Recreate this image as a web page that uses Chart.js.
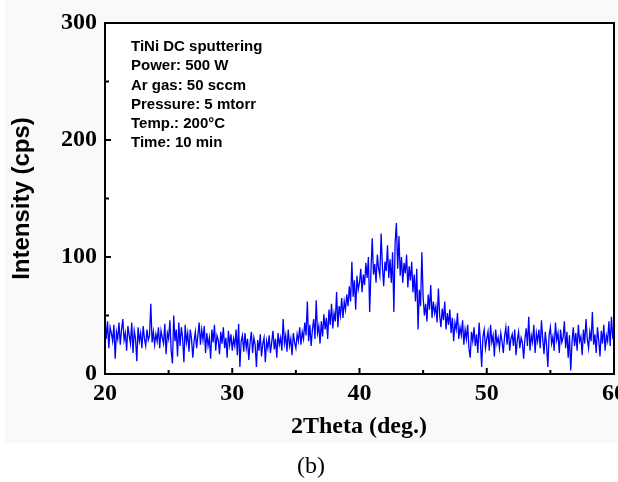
<!DOCTYPE html>
<html>
<head>
<meta charset="utf-8">
<script src="https://cdn.jsdelivr.net/npm/chart.js@4/dist/chart.umd.min.js"></script>
<style>
html,body{margin:0;padding:0;background:#fff;}
canvas{display:block;}
</style>
</head>
<body>
<canvas id="c" width="618" height="482"></canvas>
<script>
// Scan grid (2Theta, degrees)
const startAngle = 20;
const stepAngle = 0.1;
// Intensity (cps), one row per degree (20.0 ... 60.0)
const intensity = [
  48,30,45,22,40,35,28,42,13,36,
  30,44,25,38,47,29,35,20,41,33,
  26,44,18,37,30,11,40,28,35,22,
  41,30,24,38,29,33,60,27,36,25,
  34,28,40,22,37,31,26,43,17,35,
  30,46,20,9,50,28,38,15,44,24,
  40,31,10,42,27,35,19,38,30,14,
  28,36,22,33,44,25,38,29,41,18,
  35,24,31,13,38,27,42,20,33,29,
  17,36,26,40,22,31,14,37,25,34,
  20,30,24,38,16,43,6,28,33,19,
  35,22,30,12,27,36,18,31,25,6,
  29,20,34,15,26,31,10,28,22,33,
  18,27,37,21,30,14,35,25,31,20,
  47,26,33,19,38,24,30,16,35,27,
  22,34,28,40,25,36,30,44,33,62,
  28,42,24,38,47,30,63,35,41,26,
  45,32,51,38,48,30,55,42,60,39,
  52,45,70,40,58,50,65,48,62,55,
  68,58,75,62,96,66,80,55,84,72,
  78,90,70,85,76,95,82,100,53,88,
  116,85,94,78,102,90,84,120,92,75,
  96,88,110,82,98,78,104,53,112,129,
  90,118,84,100,78,95,86,102,74,92,
  80,96,70,85,62,90,38,72,58,104,
  66,50,60,45,68,55,76,48,62,52,
  58,44,73,50,40,56,46,62,38,52,
  42,55,35,48,28,44,38,52,30,40,
  33,46,25,38,30,42,22,14,36,28,
  40,24,34,18,44,28,6,32,38,22,
  30,36,20,42,27,33,15,38,26,31,
  22,35,28,18,32,40,25,41,20,30,
  34,24,38,16,29,36,22,31,27,13,
  30,39,24,49,20,33,27,42,18,35,
  28,38,22,46,30,17,36,25,6,33,
  40,26,32,20,44,29,35,18,38,27,
  31,45,22,36,14,33,3,27,40,24,
  35,20,42,28,32,16,38,26,47,30,
  22,36,28,53,25,34,18,40,29,15,
  37,26,42,20,33,28,45,24,49,31,
  28
];
const xTicks = [20, 30, 40, 50, 60];
const xMinorTicks = [25, 35, 45, 55];
const yTicks = [0, 100, 200, 300];
const yMinorTicks = [50, 150, 250];
const annotationLines = [
  "TiNi DC sputtering",
  "Power: 500 W",
  "Ar gas: 50 sccm",
  "Pressure: 5 mtorr",
  "Temp.: 200\u00B0C",
  "Time: 10 min"
];
const xTitle = "2Theta (deg.)";
const yTitle = "Intensity (cps)";
const caption = "(b)";

const points = intensity.map((v, i) => ({ x: +(startAngle + i * stepAngle).toFixed(2), y: v }));

const decor = {
  id: 'decor',
  beforeDraw(chart) {
    const ctx = chart.ctx, a = chart.chartArea;
    ctx.save();
    ctx.fillStyle = '#ffffff';
    ctx.fillRect(0, 0, chart.width, chart.height);
    ctx.fillStyle = '#f9f9f9';
    ctx.fillRect(5, 0, chart.width - 5, 443);
    ctx.fillStyle = '#ffffff';
    ctx.fillRect(a.left, a.top, a.right - a.left, a.bottom - a.top);
    ctx.restore();
  },
  afterDatasetsDraw(chart) {
    const ctx = chart.ctx, a = chart.chartArea;
    const xs = chart.scales.x, ys = chart.scales.y;
    ctx.save();
    ctx.strokeStyle = '#000';
    ctx.lineWidth = 2;
    ctx.strokeRect(a.left, a.top, a.right - a.left, a.bottom - a.top);
    ctx.beginPath();
    xTicks.forEach(t => { const px = xs.getPixelForValue(t); ctx.moveTo(px, a.bottom); ctx.lineTo(px, a.bottom - 6); });
    xMinorTicks.forEach(t => { const px = xs.getPixelForValue(t); ctx.moveTo(px, a.bottom); ctx.lineTo(px, a.bottom - 4); });
    yTicks.forEach(t => { const py = ys.getPixelForValue(t); ctx.moveTo(a.left, py); ctx.lineTo(a.left + 6, py); });
    yMinorTicks.forEach(t => { const py = ys.getPixelForValue(t); ctx.moveTo(a.left, py); ctx.lineTo(a.left + 4, py); });
    ctx.stroke();

    // annotation
    ctx.fillStyle = '#000';
    ctx.font = 'bold 15px "Liberation Sans", Arial, sans-serif';
    ctx.textAlign = 'left';
    ctx.textBaseline = 'middle';
    annotationLines.forEach((s, i) => ctx.fillText(s, 131, 47 + i * 19.2));

    // x title
    ctx.font = 'bold 24px "Liberation Serif", "Times New Roman", serif';
    ctx.textAlign = 'center';
    ctx.textBaseline = 'middle';
    ctx.fillText(xTitle, 359, 427);

    // caption
    ctx.font = '24px "Liberation Serif", "Times New Roman", serif';
    ctx.fillText(caption, 311, 467);

    // y title
    ctx.translate(22, (a.top + a.bottom) / 2);
    ctx.rotate(-Math.PI / 2);
    ctx.font = 'bold 24px "Liberation Sans", Arial, sans-serif';
    ctx.fillText(yTitle, 0, 0);
    ctx.restore();
  }
};

new Chart(document.getElementById('c'), {
  type: 'line',
  data: {
    datasets: [{
      data: points,
      borderColor: '#0000ff',
      borderWidth: 1.3,
      pointRadius: 0,
      tension: 0,
      fill: false
    }]
  },
  options: {
    responsive: false,
    animation: false,
    devicePixelRatio: 1,
    layout: { padding: { left: 0, top: 23, right: 4, bottom: 0 } },
    plugins: { legend: { display: false }, tooltip: { enabled: false } },
    scales: {
      x: {
        type: 'linear',
        min: 20, max: 60,
        grid: { display: false, drawTicks: false },
        border: { display: false },
        afterBuildTicks(s) { s.ticks = xTicks.map(v => ({ value: v })); },
        ticks: {
          color: '#000',
          padding: 5,
          maxRotation: 0,
          font: { family: '"Liberation Serif", "Times New Roman", serif', size: 24, weight: 'bold' }
        },
        afterFit(s) { s.height = 108; s.paddingLeft = 0; s.paddingRight = 0; }
      },
      y: {
        min: 0, max: 300,
        grid: { display: false, drawTicks: false },
        border: { display: false },
        afterBuildTicks(s) { s.ticks = yTicks.map(v => ({ value: v })); },
        ticks: {
          color: '#000',
          padding: 8,
          font: { family: '"Liberation Serif", "Times New Roman", serif', size: 24, weight: 'bold' }
        },
        afterFit(s) { s.width = 105; s.paddingTop = 0; s.paddingBottom = 0; }
      }
    }
  },
  plugins: [decor]
});
</script>
</body>
</html>
